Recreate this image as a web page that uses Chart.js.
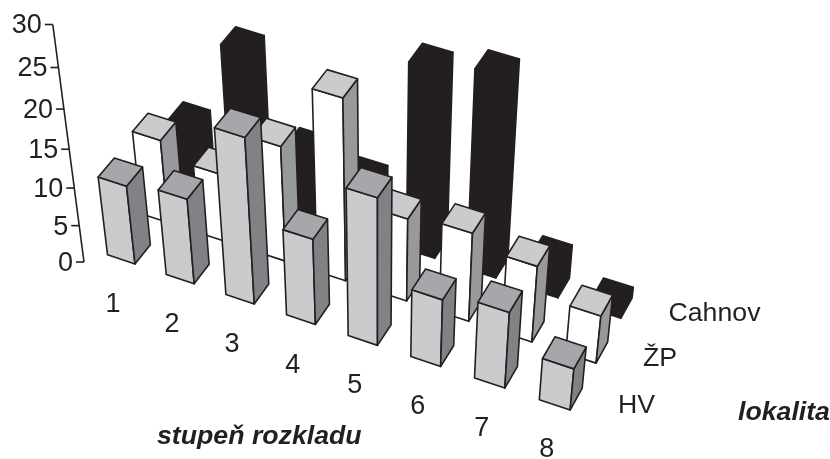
<!DOCTYPE html>
<html>
<head>
<meta charset="utf-8">
<style>
  html, body { margin: 0; padding: 0; background: #ffffff; }
  canvas { display: block; }
</style>
<script src="https://cdn.jsdelivr.net/npm/chart.js@4"></script>
</head>
<body>
<canvas id="chart" width="830" height="459"></canvas>
<script>
// Decay stages and sites
const stages = ['1', '2', '3', '4', '5', '6', '7', '8'];
const valuesHV = [10.5, 11.4, 21.7, 11.5, 19.4, 9.1, 10.3, 5.7];
const valuesZP = [11.1, 9.1, 15.3, 23.7, 11.1, 11.9, 10.3, 6.5];
const valuesCahnov = [7.5, 19.5, 8.9, 7.5, 24.3, 25.8, 4.6, 1.5];
const axisTicks = [0, 5, 10, 15, 20, 25, 30];
const stageTitle = 'stupeň rozkladu';
const siteTitle = 'lokalita';

const INK = '#231f20';
const LABEL_FONT = '27px "Liberation Sans", Arial, sans-serif';
const NAME_FONT = '26.7px "Liberation Sans", Arial, sans-serif';
const TITLE_FONT = 'italic bold 26.7px "Liberation Sans", Arial, sans-serif';

// Ground plane: stage index i runs to the right, site row j runs into the depth.
function ground(i, j) {
  const w = 1 - 0.008 * i + 0.02 * j;
  return { x: (135 + 57.6 * i + 36.4 * j) / w, y: (264 + 17.58 * i - 37 * j) / w, w };
}

// Raise a ground point by a flat chart height; verticals converge far below the plot.
const VANISH_X = 378, VANISH_Y = 2500, RISE = 0.00041;
function lift(p, height) {
  const t = height * RISE;
  const d = p.w - t;
  return {
    x: (p.x * p.w - VANISH_X * t) / d,
    y: (p.y * p.w - VANISH_Y * t) / d
  };
}

function face(ctx, pts, fill) {
  ctx.beginPath();
  pts.forEach((p, k) => (k ? ctx.lineTo(p.x, p.y) : ctx.moveTo(p.x, p.y)));
  ctx.closePath();
  ctx.fillStyle = fill;
  ctx.fill();
  ctx.stroke();
}

const BAR_W = 0.47, BAR_D = 0.46;

// Bar controller that renders each bar as a prism standing on the ground plane.
class Prism3DController extends Chart.BarController {
  draw() {
    const ctx = this.chart.ctx;
    const ds = this.getDataset();
    const xs = this.chart.scales.x;
    const x0 = xs.getPixelForValue(0);
    const step = xs.getPixelForValue(1) - x0;
    ctx.save();
    ctx.lineJoin = 'round';
    ctx.lineWidth = 1.6;
    ctx.strokeStyle = INK;
    this.getMeta().data.forEach((bar) => {
      const i = (bar.x - x0) / step;
      const j = ds.depth;
      const h = bar.base - bar.y;
      const fb = ground(i, j), fa = ground(i - BAR_W, j);
      const bb = ground(i, j + BAR_D), ba = ground(i - BAR_W, j + BAR_D);
      const tfb = lift(fb, h), tfa = lift(fa, h), tbb = lift(bb, h), tba = lift(ba, h);
      face(ctx, [fa, fb, tfb, tfa], ds.frontColor);
      face(ctx, [fb, bb, tbb, tfb], ds.sideColor);
      face(ctx, [tfa, tfb, tbb, tba], ds.topColor);
    });
    ctx.restore();
  }
}
Prism3DController.id = 'prism3d';
Prism3DController.defaults = Object.assign({}, Chart.BarController.defaults);
Prism3DController.overrides = Chart.BarController.overrides;
Chart.register(Prism3DController);

function text(ctx, str, x, y, font, align) {
  ctx.font = font;
  ctx.textAlign = align;
  ctx.textBaseline = 'middle';
  ctx.fillStyle = INK;
  ctx.fillText(str, x, y);
}

// Slanted value axis, stage numbers, site names and the two axis titles.
const axisDecor = {
  id: 'axisDecor',
  afterDatasetsDraw(chart) {
    const { ctx, scales: { x: xs, y: ys } } = chart;
    const foot = { x: 84, y: 262, w: 1 };
    const zero = ys.getPixelForValue(0);
    ctx.save();
    ctx.strokeStyle = INK;
    ctx.lineWidth = 1.6;
    const top = lift(foot, zero - ys.getPixelForValue(axisTicks[axisTicks.length - 1]));
    ctx.beginPath();
    ctx.moveTo(foot.x, foot.y);
    ctx.lineTo(top.x, top.y);
    ctx.stroke();
    axisTicks.forEach((v) => {
      const p = lift(foot, zero - ys.getPixelForValue(v));
      ctx.beginPath();
      ctx.moveTo(p.x, p.y);
      ctx.lineTo(p.x - 8, p.y);
      ctx.stroke();
      text(ctx, String(v), p.x - 11, p.y + 1.5, LABEL_FONT, 'right');
    });
    const x0 = xs.getPixelForValue(0);
    const step = xs.getPixelForValue(1) - x0;
    stages.forEach((s, k) => {
      const i = (xs.getPixelForValue(k) - x0) / step;
      const w = 1 - 0.008 * i;
      text(ctx, s, (113 + 57.6 * i) / w, (305 + 17.1 * i) / w, LABEL_FONT, 'center');
    });
    chart.data.datasets.forEach((ds) => {
      text(ctx, ds.label, ds.labelX, ds.labelY, NAME_FONT, 'left');
    });
    text(ctx, stageTitle, 157, 436.5, TITLE_FONT, 'left');
    text(ctx, siteTitle, 738, 412.5, TITLE_FONT, 'left');
    ctx.restore();
  }
};

new Chart(document.getElementById('chart'), {
  type: 'prism3d',
  data: {
    labels: stages,
    datasets: [
      { label: 'HV', data: valuesHV, depth: 0, grouped: false, clip: false,
        frontColor: '#c9cbcd', topColor: '#a5a7aa', sideColor: '#808285', labelX: 618, labelY: 405.5 },
      { label: 'ŽP', data: valuesZP, depth: 1, grouped: false, clip: false,
        frontColor: '#ffffff', topColor: '#c9cbcd', sideColor: '#97999c', labelX: 643, labelY: 358.5 },
      { label: 'Cahnov', data: valuesCahnov, depth: 2, grouped: false, clip: false,
        frontColor: INK, topColor: INK, sideColor: INK, labelX: 668.5, labelY: 314 }
    ]
  },
  options: {
    responsive: false,
    animation: false,
    layout: { padding: { left: 82, right: 252, top: 28, bottom: 197 } },
    plugins: { legend: { display: false }, tooltip: { enabled: false } },
    scales: {
      x: { type: 'category', display: false, offset: true },
      y: { type: 'linear', display: false, min: 0, max: 30, ticks: { stepSize: 5 } }
    }
  },
  plugins: [axisDecor]
});
</script>
</body>
</html>
